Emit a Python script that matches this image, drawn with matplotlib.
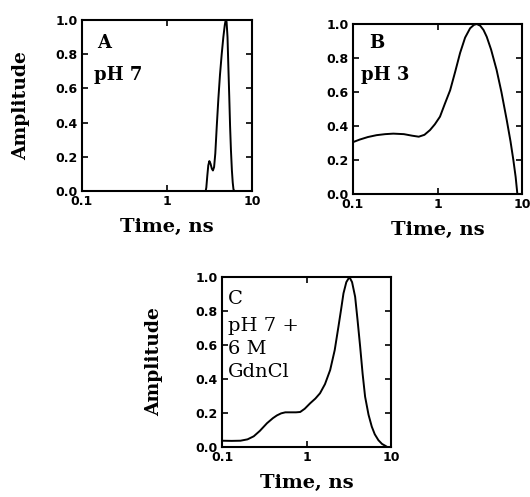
import matplotlib
matplotlib.use('Agg')
import matplotlib.pyplot as plt
from matplotlib.ticker import FixedLocator, NullLocator

# panel A, pH 7
t_a = [0.1, 2.85, 2.9, 2.98, 3.06, 3.15, 3.25, 3.37, 3.47, 3.58, 3.7, 3.85, 4.02, 4.2, 4.4, 4.6,
       4.78, 4.9, 5.02, 5.15, 5.26, 5.4, 5.52, 5.65, 5.8, 5.93, 6.05, 6.2, 10]
amp_a = [0.0, 0.0, 0.02, 0.09, 0.15, 0.175, 0.16, 0.13, 0.12, 0.14, 0.22, 0.38, 0.54, 0.68, 0.8, 0.9,
         0.97, 1.0, 0.99, 0.9, 0.74, 0.55, 0.38, 0.24, 0.12, 0.05, 0.01, 0.0, 0.0]

# panel B, pH 3
t_b = [0.1, 0.12, 0.15, 0.19, 0.24, 0.3, 0.4, 0.5, 0.6, 0.7, 0.815, 0.93, 1.07, 1.22, 1.41,
       1.62, 1.85, 2.12, 2.43, 2.7, 2.91, 3.2, 3.5, 3.82, 4.3, 5.0, 5.7, 6.59, 7.3, 7.89, 8.4, 8.8]
amp_b = [0.305, 0.32, 0.335, 0.346, 0.352, 0.355, 0.352, 0.343, 0.337, 0.348, 0.376, 0.41, 0.455,
         0.53, 0.61, 0.72, 0.83, 0.92, 0.975, 0.995, 1.0, 0.99, 0.965, 0.925, 0.85, 0.73, 0.6,
         0.435, 0.31, 0.2, 0.1, 0.0]

# panel C, pH 7 + 6 M GdnCl
t_c = [0.1, 0.13, 0.165, 0.2, 0.237, 0.28, 0.34, 0.4, 0.446, 0.5, 0.56, 0.65, 0.75, 0.84, 0.95,
       1.1, 1.27, 1.44, 1.65, 1.9, 2.15, 2.38, 2.56, 2.73, 2.95, 3.21, 3.45, 3.75, 4.0, 4.3,
       4.6, 4.92, 5.4, 5.9, 6.4, 7.07, 7.8, 8.47, 9.0, 10]
amp_c = [0.037, 0.036, 0.037, 0.045, 0.063, 0.095, 0.14, 0.17, 0.186, 0.198, 0.204, 0.204, 0.204,
         0.206, 0.225, 0.257, 0.285, 0.316, 0.37, 0.453, 0.57, 0.708, 0.81, 0.904, 0.97, 1.0,
         0.97, 0.884, 0.75, 0.59, 0.43, 0.296, 0.19, 0.12, 0.075, 0.04, 0.018, 0.008, 0.0, 0.0]

x_ticks = [0.1, 1, 10]
x_tick_labels = ['0.1', '1', '10']
y_ticks = [0.0, 0.2, 0.4, 0.6, 0.8, 1.0]
y_tick_labels = ['0.0', '0.2', '0.4', '0.6', '0.8', '1.0']

label_font = dict(family='DejaVu Serif', weight='bold', size=14)
tick_font = dict(family='DejaVu Sans', weight='bold', size=9)

fig = plt.figure(figsize=(5.3, 4.97), dpi=100)


def setup(ax, t, amp, ylabel_x=None):
    ax.plot(t, amp, color='black', lw=1.4)
    ax.set_xscale('log')
    ax.set_xlim(0.1, 10)
    ax.set_ylim(0, 1)
    ax.xaxis.set_major_locator(FixedLocator(x_ticks))
    ax.xaxis.set_minor_locator(NullLocator())
    ax.set_xticklabels(x_tick_labels, fontdict=tick_font)
    ax.set_yticks(y_ticks)
    ax.set_yticklabels(y_tick_labels, fontdict=tick_font)
    ax.tick_params(direction='in', top=True, right=True, length=4, width=1.2, pad=3)
    for s in ax.spines.values():
        s.set_linewidth(1.5)
    ax.set_xlabel('Time, ns', fontdict=label_font, labelpad=7)
    if ylabel_x is not None:
        ax.set_ylabel('Amplitude', family='DejaVu Serif', weight='bold', size=13.5)
        ax.yaxis.set_label_coords(ylabel_x, 0.5)


ax_a = fig.add_axes([0.1547, 0.6157, 0.3208, 0.344])
setup(ax_a, t_a, amp_a, ylabel_x=-0.305)
ax_a.text(0.09, 0.865, 'A', transform=ax_a.transAxes, va='center', ha='left',
          family='DejaVu Serif', weight='bold', size=13)
ax_a.text(0.07, 0.678, 'pH 7', transform=ax_a.transAxes, va='center', ha='left',
          family='DejaVu Serif', weight='bold', size=13)

ax_b = fig.add_axes([0.666, 0.6097, 0.319, 0.342])
setup(ax_b, t_b, amp_b)
ax_b.text(0.095, 0.89, 'B', transform=ax_b.transAxes, va='center', ha='left',
          family='DejaVu Serif', weight='bold', size=13)
ax_b.text(0.05, 0.70, 'pH 3', transform=ax_b.transAxes, va='center', ha='left',
          family='DejaVu Serif', weight='bold', size=13)

ax_c = fig.add_axes([0.419, 0.1006, 0.319, 0.342])
setup(ax_c, t_c, amp_c, ylabel_x=-0.35)
for txt, yy in [('C', 0.87), ('pH 7 +', 0.71), ('6 M', 0.576), ('GdnCl', 0.443)]:
    ax_c.text(0.036, yy, txt, transform=ax_c.transAxes, va='center', ha='left',
              family='DejaVu Serif', size=14)

fig.savefig('out.png', dpi=100)
